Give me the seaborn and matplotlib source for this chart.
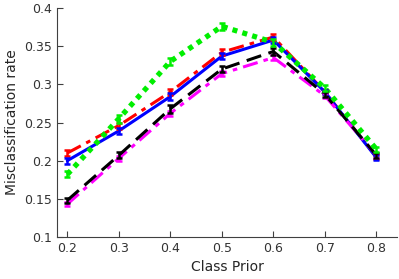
import numpy as np
import pandas as pd
import matplotlib
matplotlib.use("Agg")
import matplotlib.pyplot as plt
import seaborn as sns

# Class prior values on the x axis
priors = [0.2, 0.3, 0.4, 0.5, 0.6, 0.7, 0.8]

# Misclassification rate per method
blue_vals = [0.200, 0.239, 0.284, 0.337, 0.358, 0.290, 0.204]
red_vals = [0.210, 0.246, 0.290, 0.342, 0.362, 0.290, 0.205]
green_vals = [0.182, 0.255, 0.330, 0.376, 0.355, 0.295, 0.215]
black_vals = [0.148, 0.207, 0.268, 0.320, 0.343, 0.287, 0.207]
magenta_vals = [0.143, 0.203, 0.262, 0.314, 0.335, 0.285, 0.207]

# small error bars
blue_err = [0.004, 0.004, 0.004, 0.004, 0.004, 0.003, 0.003]
red_err = [0.004, 0.004, 0.004, 0.004, 0.004, 0.003, 0.003]
green_err = [0.004, 0.005, 0.005, 0.005, 0.005, 0.004, 0.003]
black_err = [0.003, 0.004, 0.005, 0.004, 0.004, 0.003, 0.003]
magenta_err = [0.003, 0.003, 0.003, 0.003, 0.003, 0.003, 0.003]

series = [
    ("red", red_vals, red_err, "#ff0000", (0, (5, 2, 1.5, 2)), 2.2),
    ("blue", blue_vals, blue_err, "#0000ff", "-", 2.2),
    ("magenta", magenta_vals, magenta_err, "#ff00ff", (0, (5, 2, 1.5, 2)), 2.2),
    ("black", black_vals, black_err, "#000000", (0, (5, 2.5)), 2.2),
    ("green", green_vals, green_err, "#00ee00", (0, (0.95, 1.0)), 3.8),
]

sns.set_style("ticks")
plt.rcParams["font.family"] = ["DejaVu Sans"]

fig = plt.figure(figsize=(3.99, 2.79), dpi=100)
ax = fig.add_axes([57 / 399, 42 / 279, 340 / 399, 229 / 279])

for name, vals, err, color, ls, lw in series:
    df = pd.DataFrame({"prior": priors, "rate": vals})
    sns.lineplot(data=df, x="prior", y="rate", color=color, linestyle=ls,
                 linewidth=lw, ax=ax, zorder=3)
    ax.errorbar(priors, vals, yerr=err, fmt="none", ecolor=color,
                elinewidth=1.8, capsize=2.5, capthick=1.8, zorder=4)

ax.set_xlim(0.18, 0.84)
ax.set_ylim(0.1, 0.4)
ax.set_xticks(priors)
ax.set_xticklabels([str(p) for p in priors])
ax.set_yticks([0.1, 0.15, 0.2, 0.25, 0.3, 0.35, 0.4])
ax.set_yticklabels(["0.1", "0.15", "0.2", "0.25", "0.3", "0.35", "0.4"])
ax.tick_params(direction="in", length=4, width=0.8, colors="#404040",
               labelsize=9, labelcolor="#333333")
ax.set_xlabel("Class Prior", fontsize=10, color="#262626")
ax.set_ylabel("Misclassification rate", fontsize=10, color="#262626")
for side in ["top", "right"]:
    ax.spines[side].set_visible(False)
for side in ["left", "bottom"]:
    ax.spines[side].set_color("#404040")
    ax.spines[side].set_linewidth(0.8)

fig.savefig("out.png", dpi=100)
